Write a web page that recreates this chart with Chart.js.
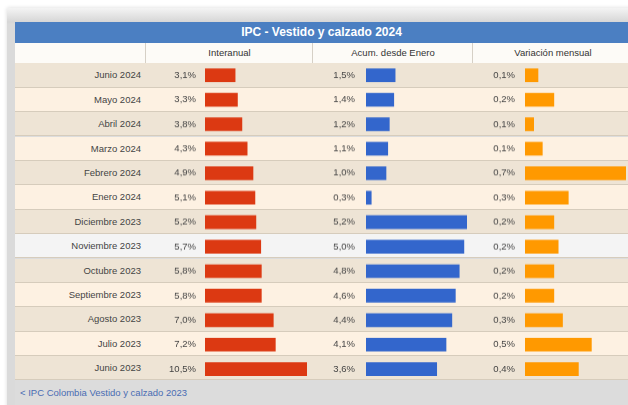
<!DOCTYPE html>
<html>
<head>
<meta charset="utf-8">
<script src="https://cdn.jsdelivr.net/npm/chart.js@4.4.0/dist/chart.umd.min.js"></script>
<style>
  html, body { margin: 0; padding: 0; background: #fff; }
  body { width: 628px; height: 405px; position: relative; overflow: hidden;
         font-family: 'Liberation Sans', Arial, sans-serif; }
  #frame { position: absolute; left: 7px; top: 8px; width: 640px; height: 420px;
           background: linear-gradient(#f4f4f4, #d6d6d6 14px, #dadada 16px);
           box-shadow: 0 0 4px rgba(0,0,0,0.15); }
  #box { position: absolute; left: 15px; top: 22px; width: 640px; height: 400px; background: #dcdcdc; }
  #title { position: absolute; left: 0; top: 0; width: 613px; height: 21px; background: #4b7fc2;
           color: #fff; font-weight: bold; font-size: 12px; line-height: 21px; text-align: center; }
  #head { position: absolute; left: 0; top: 21px; width: 640px; height: 20px; background: #fdfbf7;
          border-bottom: 1px solid #d9d2c6; }
  .hc { position: absolute; top: 0; height: 20px; line-height: 20px; font-size: 9.5px; color: #333;
        text-align: center; border-left: 1px solid #d6d0c6; }
  .row { position: absolute; left: 0; width: 640px; box-sizing: border-box; border-bottom: 1px solid #d6ccbc; }
  .row span { position: absolute; right: 514px; font-size: 9.5px; color: #444; }
  #foot { position: absolute; left: 0; top: 359px; width: 640px; height: 24px; background: #dcdcdc;
          color: #4a6cb3; font-size: 9.5px; line-height: 24px; padding-left: 5px; }
  .chart { position: absolute; top: 63.3px; height: 317.4px; }
</style>
</head>
<body>
<div id="frame"></div>
<div id="box">
  <div id="title">IPC - Vestido y calzado 2024</div>
  <div id="head">
    <div class="hc" style="left:130px;width:167px">Interanual</div>
    <div class="hc" style="left:297px;width:160px">Acum. desde Enero</div>
    <div class="hc" style="left:457px;width:160px">Variación mensual</div>
  </div>
  <div id="rows"></div>
  <div id="foot">&lt; IPC Colombia Vestido y calzado 2023</div>
</div>
<div class="chart" style="left:145px;width:162px"><canvas id="c1"></canvas></div>
<div class="chart" style="left:313px;width:154px"><canvas id="c2"></canvas></div>
<div class="chart" style="left:473px;width:153px"><canvas id="c3"></canvas></div>

<script>
// Datos
const months = ['Junio 2024', 'Mayo 2024', 'Abril 2024', 'Marzo 2024', 'Febrero 2024', 'Enero 2024',
  'Diciembre 2023', 'Noviembre 2023', 'Octubre 2023', 'Septiembre 2023', 'Agosto 2023', 'Julio 2023', 'Junio 2023'];
const interanual = [3.1, 3.34, 3.8, 4.34, 4.94, 5.14, 5.24, 5.74, 5.8, 5.8, 7.03, 7.24, 10.5];
const acumulado = [1.5, 1.43, 1.2, 1.12, 1.03, 0.27, 5.2, 5.04, 4.8, 4.6, 4.42, 4.12, 3.64];
const mensual = [0.09, 0.2, 0.06, 0.12, 0.7, 0.3, 0.2, 0.23, 0.2, 0.2, 0.26, 0.46, 0.37];

const ROW_H = 24.4;
const rowColors = ['#eee4d5', '#fdf1e2'];
const hoverRow = 7; // Noviembre 2023 aparece resaltada

// filas de la tabla (fondo + etiqueta del mes)
const rowsEl = document.getElementById('rows');
months.forEach((m, i) => {
  const r = document.createElement('div');
  r.className = 'row';
  r.style.top = (41.3 + i * ROW_H) + 'px';
  r.style.height = ROW_H + 'px';
  r.style.background = i === hoverRow ? '#f4f4f4' : rowColors[i % 2];
  r.innerHTML = `<span style="line-height:${ROW_H}px">${m}</span>`;
  rowsEl.appendChild(r);
});

Chart.defaults.font.family = "'Liberation Sans', Arial, sans-serif";
Chart.defaults.font.size = 9.5;
Chart.defaults.color = '#444';

const fmt = v => v.toFixed(1).replace('.', ',') + '%';

function createCellBars(canvasId, values, color, axisWidth, pad) {
  const ctx = document.getElementById(canvasId);
  return new Chart(ctx, {
    type: 'bar',
    data: {
      labels: months,
      datasets: [{
        data: values,
        backgroundColor: color,
        borderWidth: 0,
        barThickness: 13
      }]
    },
    options: {
      indexAxis: 'y',
      responsive: true,
      maintainAspectRatio: false,
      animation: false,
      layout: { padding: 0 },
      plugins: { legend: { display: false }, tooltip: { enabled: false } },
      scales: {
        x: { display: false, min: 0, max: Math.max(...values) },
        y: {
          grid: { display: false, drawTicks: false },
          border: { display: false },
          afterFit: axis => {
            axis.width = axisWidth;
            axis.paddingTop = 0;
            axis.paddingBottom = 0;
          },
          ticks: {
            padding: pad,
            color: '#444',
            callback: (val, i) => fmt(values[i])
          }
        }
      }
    }
  });
}

createCellBars('c1', interanual, '#dc3912', 60, 9);
createCellBars('c2', acumulado, '#3366cc', 53, 11);
createCellBars('c3', mensual, '#ff9900', 52, 10);
</script>
</body>
</html>
